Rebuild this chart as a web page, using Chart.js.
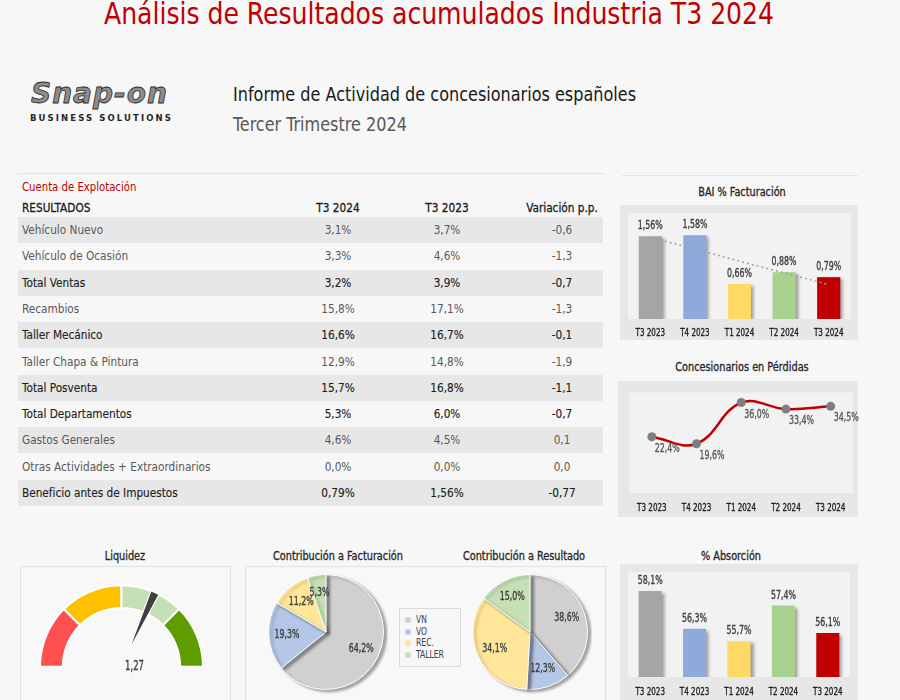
<!DOCTYPE html>
<html lang="es">
<head>
<meta charset="utf-8">
<title>Análisis de Resultados acumulados Industria T3 2024</title>
<script src="https://cdn.jsdelivr.net/npm/chart.js@4.4.1/dist/chart.umd.min.js"></script>
<style>
  body {
    margin: 0;
    width: 900px;
    height: 700px;
    overflow: hidden;
    position: relative;
    background: #f7f7f7;
    font-family: 'Liberation Sans Narrow', 'DejaVu Sans Condensed', Roboto, sans-serif;
    color: #404040;
  }
  .abs { position: absolute; white-space: nowrap; }
  .title { left: -11px; width: 900px; top: -2px; text-align: center; font-size: 31px; line-height: 31px; color: #c00000;
           transform: scaleX(0.9); }
  .logo { left: 31px; top: 79px; font-family: 'DejaVu Sans', sans-serif; font-weight: bold; font-style: italic;
          font-size: 28px; line-height: 29px; color: #8c8c8c; -webkit-text-stroke: 0.8px #2b2b2b; letter-spacing: 1px; }
  .logo-sub { left: 30px; top: 113px; font-family: 'DejaVu Sans', sans-serif; font-weight: bold; font-size: 8.5px;
              letter-spacing: 2.1px; color: #262626; }
  .head1, .head2 { left: 233px; font-size: 19px; line-height: 22px; transform: scaleX(0.94); transform-origin: left center; }
  .head1 { top: 83px; color: #1a1a1a; }
  .head2 { top: 113px; color: #595959; }
  .rule { height: 1px; background: #e4e4e4; }
  .chart-title { font-size: 12px; line-height: 14px; color: #262626; -webkit-text-stroke: 0.3px #262626;
                 transform: translateX(-50%) scaleX(0.9); }
  .panel { background: #e7e7e7; }
  .box { border: 1px solid #e2e2e2; background: #f8f8f8; box-sizing: border-box; }
  .row { left: 18px; width: 585px; height: 26px; font-size: 13px; line-height: 26px; }
  .cell { position: absolute; top: 0; transform: scaleX(0.9); transform-origin: left center; }
  .cell.num { transform: translateX(-50%) scaleX(0.9); transform-origin: center center; }
  .legend { left: 399px; top: 608px; width: 62px; height: 59px; border: 1px solid #d9d9d9; background: #f7f7f7;
            box-sizing: border-box; padding: 5px 0 0 5px; font-size: 10px; }
  .legend div { height: 11.7px; line-height: 11.7px; }
  .legend span { display: inline-block; width: 6px; height: 6px; border-radius: 50%; margin-right: 5px; vertical-align: 0px; }
  .legend em { font-style: normal; display: inline-block; transform: scaleX(0.85); transform-origin: left center; }
</style>
</head>
<body>
<div class="abs title">Análisis de Resultados acumulados Industria T3 2024</div>
<div class="abs logo">Snap-on</div>
<div class="abs logo-sub">BUSINESS SOLUTIONS</div>
<div class="abs head1">Informe de Actividad de concesionarios españoles</div>
<div class="abs head2">Tercer Trimestre 2024</div>

<div class="abs rule" style="left:18px; top:173px; width:587px;"></div>
<div class="abs rule" style="left:622px; top:175px; width:236px;"></div>

<div id="table"></div>

<div class="abs chart-title" style="left:742px; top:185px;">BAI % Facturación</div>
<div class="abs panel" style="left:620px; top:205px; width:238px; height:135px;"></div>
<canvas class="abs" id="baiChart" width="223" height="125" style="left:628px; top:213px;"></canvas>

<div class="abs chart-title" style="left:742px; top:360px;">Concesionarios en Pérdidas</div>
<div class="abs panel" style="left:618px; top:381px; width:240px; height:136px;"></div>
<canvas class="abs" id="perdidasChart" width="236" height="126" style="left:625px; top:388px;"></canvas>

<div class="abs chart-title" style="left:125px; top:549px;">Liquidez</div>
<div class="abs box" style="left:20px; top:566px; width:211px; height:140px;"></div>
<canvas class="abs" id="liquidezChart" width="165" height="110" style="left:39px; top:584px;"></canvas>

<div class="abs chart-title" style="left:338px; top:549px;">Contribución a Facturación</div>
<div class="abs chart-title" style="left:524px; top:549px;">Contribución a Resultado</div>
<div class="abs box" style="left:245px; top:566px; width:361px; height:140px;"></div>
<canvas class="abs" id="factChart" width="124" height="124" style="left:264px; top:570px;"></canvas>
<canvas class="abs" id="resChart" width="124" height="124" style="left:468px; top:570px;"></canvas>
<div class="abs legend" id="legend"></div>

<div class="abs chart-title" style="left:731px; top:549px;">% Absorción</div>
<div class="abs panel" style="left:620px; top:564px; width:238px; height:140px;"></div>
<canvas class="abs" id="absorcionChart" width="222" height="124" style="left:628px; top:572px;"></canvas>

<script>
// ---- datos ----
const resultRows = ['Vehículo Nuevo', 'Vehículo de Ocasión', 'Total Ventas', 'Recambios', 'Taller Mecánico',
    'Taller Chapa & Pintura', 'Total Posventa', 'Total Departamentos', 'Gastos Generales',
    'Otras Actividades + Extraordinarios', 'Beneficio antes de Impuestos'];
const resT3_2024 = ['3,1%', '3,3%', '3,2%', '15,8%', '16,6%', '12,9%', '15,7%', '5,3%', '4,6%', '0,0%', '0,79%'];
const resT3_2023 = ['3,7%', '4,6%', '3,9%', '17,1%', '16,7%', '14,8%', '16,8%', '6,0%', '4,5%', '0,0%', '1,56%'];
const variacionPP = ['-0,6', '-1,3', '-0,7', '-1,3', '-0,1', '-1,9', '-1,1', '-0,7', '0,1', '0,0', '-0,77'];

const quarters = ['T3 2023', 'T4 2023', 'T1 2024', 'T2 2024', 'T3 2024'];
const baiValues = [1.56, 1.58, 0.66, 0.88, 0.79];
const baiTrend = [1.54, 1.32, 1.09, 0.87, 0.65];       // linea de tendencia
const perdidasValues = [22.4, 19.6, 36.0, 33.4, 34.5];
const absorcionValues = [58.1, 56.3, 55.7, 57.4, 56.1];

const liquidezValue = 1.27;
const liquidezBands = [0.5, 0.5, 0.5, 0.5];            // escala 0 - 2

const contribCategories = ['VN', 'VO', 'REC.', 'TALLER'];
const contribFacturacion = [64.2, 19.3, 11.2, 5.3];
const contribResultado = [38.6, 12.3, 34.1, 15.0];

// ---- estilos ----
const FONT = "'Liberation Sans Narrow', 'DejaVu Sans Condensed', Roboto, sans-serif";
const SQUEEZE = 0.76;   // la fuente original es muy estrecha
const quarterColors = ['#a5a5a5', '#8eaadb', '#ffd966', '#a9d18e', '#c00000'];
const bandColors = ['#ff5050', '#ffc000', '#c5e0b4', '#5f9c00'];
const pieColors = ['#d0d0d0', '#b4c7e7', '#ffe699', '#c5e0b4'];
const strongRows = ['Total Ventas', 'Taller Mecánico', 'Total Posventa', 'Total Departamentos', 'Beneficio antes de Impuestos'];

Chart.defaults.font.family = FONT;
Chart.defaults.color = '#404040';
Chart.defaults.animation = false;
Chart.defaults.responsive = false;
Chart.defaults.plugins.legend.display = false;
Chart.defaults.plugins.tooltip.enabled = false;

function fmt(v, dec) {
    return v.toFixed(dec).replace('.', ',') + '%';
}

// texto estrecho en canvas (con un trazo fino para darle algo de peso)
function squeezeText(ctx, text, x, y, align, factor) {
    ctx.save();
    ctx.translate(x, y);
    ctx.scale(factor || SQUEEZE, 1);
    ctx.textAlign = align || 'center';
    ctx.fillText(text, 0, 0);
    ctx.strokeStyle = ctx.fillStyle;
    ctx.lineWidth = 0.35;
    ctx.strokeText(text, 0, 0);
    ctx.restore();
}

// ---- tabla ----
function buildTable() {
    const t = document.getElementById('table');
    let html = '<div class="abs" style="left:22px; top:179px; font-size:12.5px; color:#c00000; transform:scaleX(0.9); transform-origin:left center;">Cuenta de Explotación</div>';
    html += '<div class="abs row" style="top:195px; color:#1a1a1a; -webkit-text-stroke:0.3px #1a1a1a;">' +
        '<span class="cell" style="left:4px">RESULTADOS</span>' +
        '<span class="cell num" style="left:320px">T3 2024</span>' +
        '<span class="cell num" style="left:429px">T3 2023</span>' +
        '<span class="cell num" style="left:544px">Variación p.p.</span></div>';
    for (let i = 0; i < resultRows.length; i++) {
        const top = 217 + i * 26.3;
        const bg = i % 2 == 0 ? 'background:#e7e7e7;' : '';
        const strong = strongRows.indexOf(resultRows[i]) >= 0;
        const col = strong ? 'color:#1f1f1f; -webkit-text-stroke:0.15px #1f1f1f;' : 'color:#595959;';
        html += '<div class="abs row" style="top:' + top + 'px;' + bg + col + '">' +
            '<span class="cell" style="left:4px">' + resultRows[i] + '</span>' +
            '<span class="cell num" style="left:320px">' + resT3_2024[i] + '</span>' +
            '<span class="cell num" style="left:429px">' + resT3_2023[i] + '</span>' +
            '<span class="cell num" style="left:544px">' + variacionPP[i] + '</span></div>';
    }
    t.innerHTML = html;
}
buildTable();

// leyenda de las tartas
document.getElementById('legend').innerHTML = contribCategories.map(function (c, i) {
    return '<div><span style="background:' + pieColors[i] + '"></span><em>' + c + '</em></div>';
}).join('');

// ---- plugins ----
const areaBg = {
    id: 'areaBg',
    beforeDraw(chart, args, opts) {
        const a = chart.chartArea;
        chart.ctx.save();
        chart.ctx.fillStyle = opts.color || '#f2f2f2';
        chart.ctx.fillRect(a.left, a.top, a.right - a.left, a.bottom - a.top);
        chart.ctx.restore();
    }
};

// etiquetas del eje x dibujadas con la escala de Chart.js
const quarterTicks = {
    id: 'quarterTicks',
    afterDraw(chart, args, opts) {
        const ctx = chart.ctx;
        const xs = chart.scales.x;
        ctx.save();
        ctx.font = '10.5px ' + FONT;
        ctx.fillStyle = '#1f1f1f';
        ctx.textBaseline = 'middle';
        chart.data.labels.forEach(function (lab, i) {
            squeezeText(ctx, lab, xs.getPixelForValue(i), chart.chartArea.bottom + (opts.offset || 14));
        });
        ctx.restore();
    }
};

const shadow = {
    id: 'shadow',
    beforeDatasetDraw(chart, args) {
        const t = args.meta.type;
        if (t !== 'bar' && t !== 'pie') return;
        const ctx = chart.ctx;
        ctx.save();
        ctx.shadowColor = 'rgba(0,0,0,0.35)';
        ctx.shadowBlur = 3;
        ctx.shadowOffsetX = 3;
        ctx.shadowOffsetY = 2;
    },
    afterDatasetDraw(chart, args) {
        const t = args.meta.type;
        if (t !== 'bar' && t !== 'pie') return;
        chart.ctx.restore();
    }
};

const barLabels = {
    id: 'barLabels',
    afterDatasetsDraw(chart, args, opts) {
        const ctx = chart.ctx;
        const meta = chart.getDatasetMeta(0);
        const data = chart.data.datasets[0].data;
        ctx.save();
        ctx.font = '11.5px ' + FONT;
        ctx.fillStyle = '#404040';
        ctx.textBaseline = 'middle';
        meta.data.forEach(function (el, i) {
            squeezeText(ctx, fmt(data[i], opts.decimals), el.x, el.y - 10);
        });
        ctx.restore();
    }
};

const pointLabels = {
    id: 'pointLabels',
    afterDatasetsDraw(chart) {
        const ctx = chart.ctx;
        const meta = chart.getDatasetMeta(0);
        const data = chart.data.datasets[0].data;
        ctx.save();
        ctx.font = '11.5px ' + FONT;
        ctx.fillStyle = '#595959';
        ctx.textBaseline = 'middle';
        meta.data.forEach(function (el, i) {
            squeezeText(ctx, fmt(data[i], 1), el.x + 3, el.y + 12, 'left');
        });
        ctx.restore();
    }
};

const pieLabels = {
    id: 'pieLabels',
    afterDatasetsDraw(chart) {
        const ctx = chart.ctx;
        const meta = chart.getDatasetMeta(0);
        const data = chart.data.datasets[0].data;
        ctx.save();
        ctx.font = '11.5px ' + FONT;
        ctx.fillStyle = '#404040';
        ctx.textBaseline = 'middle';
        meta.data.forEach(function (arc, i) {
            const mid = (arc.startAngle + arc.endAngle) / 2;
            const r = arc.outerRadius * 0.68;
            squeezeText(ctx, fmt(data[i], 1), arc.x + Math.cos(mid) * r, arc.y + Math.sin(mid) * r);
        });
        ctx.restore();
    }
};

const needle = {
    id: 'needle',
    afterDatasetsDraw(chart) {
        const ctx = chart.ctx;
        const arc = chart.getDatasetMeta(0).data[0];
        const cx = arc.x, cy = arc.y, R = arc.outerRadius;
        const total = liquidezBands.reduce(function (a, b) { return a + b; }, 0);
        const ang = Math.PI + (liquidezValue / total) * Math.PI;
        const half = 0.055;
        const r0 = 15;
        ctx.save();
        ctx.beginPath();
        ctx.moveTo(cx + r0 * Math.cos(ang), cy + r0 * Math.sin(ang));
        ctx.lineTo(cx + R * Math.cos(ang - half), cy + R * Math.sin(ang - half));
        ctx.lineTo(cx + R * Math.cos(ang + half), cy + R * Math.sin(ang + half));
        ctx.closePath();
        ctx.fillStyle = '#404040';
        ctx.fill();
        ctx.strokeStyle = '#ffffff';
        ctx.lineWidth = 1.2;
        ctx.stroke();
        ctx.font = '13.5px ' + FONT;
        ctx.fillStyle = '#404040';
        ctx.textBaseline = 'middle';
        squeezeText(ctx, liquidezValue.toFixed(2).replace('.', ','), cx + 13, cy, 'center', 0.7);
        ctx.restore();
    }
};

// ---- BAI % Facturación ----
new Chart(document.getElementById('baiChart'), {
    type: 'bar',
    data: {
        labels: quarters,
        datasets: [{
            data: baiValues,
            backgroundColor: quarterColors,
            barPercentage: 0.65,
            categoryPercentage: 0.8,
            order: 1
        }, {
            type: 'line',
            data: baiTrend,
            borderColor: '#a0a0a0',
            borderWidth: 1.5,
            borderDash: [2, 3],
            pointRadius: 0,
            order: 0
        }]
    },
    options: {
        layout: { padding: { bottom: 19 } },
        scales: {
            x: { display: false },
            y: { display: false, min: 0, max: 2 }
        },
        plugins: { barLabels: { decimals: 2 }, areaBg: { color: '#f2f2f2' }, quarterTicks: { offset: 14 } }
    },
    plugins: [areaBg, shadow, barLabels, quarterTicks]
});

// ---- Concesionarios en Pérdidas ----
new Chart(document.getElementById('perdidasChart'), {
    type: 'line',
    data: {
        labels: quarters,
        datasets: [{
            data: perdidasValues,
            borderColor: '#c00000',
            borderWidth: 2.5,
            tension: 0.4,
            pointRadius: 4.5,
            pointBorderWidth: 0,
            pointBackgroundColor: '#7f7f7f'
        }]
    },
    options: {
        clip: false,
        layout: { padding: { bottom: 21, right: 8 } },
        scales: {
            x: { display: false, offset: true },
            y: { display: false, min: 0, max: 40 }
        },
        plugins: { areaBg: { color: '#f2f2f2' }, quarterTicks: { offset: 15 } }
    },
    plugins: [areaBg, pointLabels, quarterTicks]
});

// ---- Liquidez ----
new Chart(document.getElementById('liquidezChart'), {
    type: 'doughnut',
    data: {
        labels: ['', '', '', ''],
        datasets: [{
            data: liquidezBands,
            backgroundColor: bandColors,
            borderColor: '#ffffff',
            borderWidth: 2
        }]
    },
    options: {
        rotation: -90,
        circumference: 180,
        cutout: '72%',
        layout: { padding: { bottom: 26 } }
    },
    plugins: [needle]
});

// ---- Contribución (tartas) ----
function makePie(id, values) {
    new Chart(document.getElementById(id), {
        type: 'pie',
        data: {
            labels: contribCategories,
            datasets: [{
                data: values,
                backgroundColor: pieColors,
                borderColor: '#ffffff',
                borderWidth: 1
            }]
        },
        options: {
            layout: { padding: 4 }
        },
        plugins: [shadow, pieLabels]
    });
}
makePie('factChart', contribFacturacion);
makePie('resChart', contribResultado);

// ---- % Absorción ----
new Chart(document.getElementById('absorcionChart'), {
    type: 'bar',
    data: {
        labels: quarters,
        datasets: [{
            data: absorcionValues,
            backgroundColor: quarterColors,
            barPercentage: 0.65,
            categoryPercentage: 0.8
        }]
    },
    options: {
        layout: { padding: { bottom: 19 } },
        scales: {
            x: { display: false },
            y: { display: false, min: 54, max: 59 }
        },
        plugins: { barLabels: { decimals: 1 }, areaBg: { color: '#f2f2f2' }, quarterTicks: { offset: 15 } }
    },
    plugins: [areaBg, shadow, barLabels, quarterTicks]
});
</script>
</body>
</html>
